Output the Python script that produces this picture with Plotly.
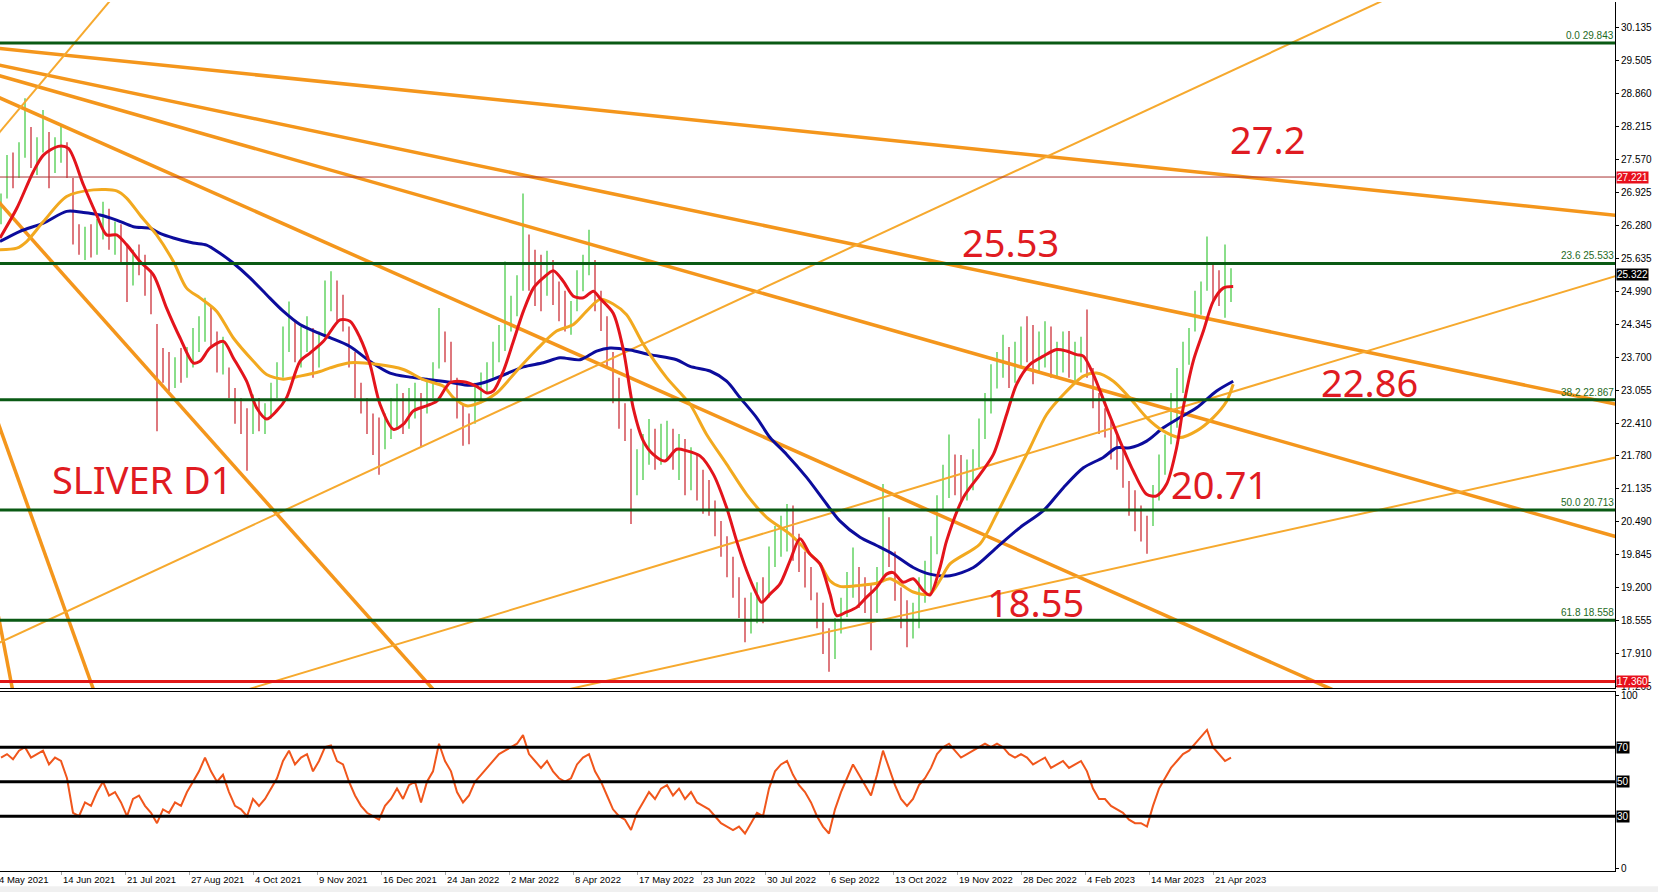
import plotly.graph_objects as go

# ---------------- data ----------------
# daily bars (every third session shown), price in USD/oz
highs = [26.90, 27.65, 27.70, 27.90, 28.76, 28.20, 28.00, 28.53, 28.10, 28.00, 28.24, 27.90,
         27.20, 26.30, 26.25, 26.30, 26.40, 26.74, 26.60, 26.35, 26.30, 25.90, 25.80, 25.90, 25.70, 25.40, 24.35,
         23.88, 23.80, 23.70, 23.88, 23.90, 24.27, 24.50, 24.86, 24.70, 24.20, 24.10, 23.50, 23.10, 22.90, 22.70,
         22.97, 22.90, 22.80, 23.20, 23.60, 24.30, 24.79, 24.40, 24.30, 24.50, 24.27,
         24.20, 25.20, 25.38, 25.20, 24.92, 24.30, 23.80, 23.20, 22.90, 22.60, 22.52, 22.60, 22.90, 23.18, 23.00,
         23.10, 23.20, 23.00, 23.30, 23.60, 24.66, 24.20, 24.00, 23.30, 22.80,
         22.60, 23.20, 23.40, 23.60, 24.00, 24.33, 25.57, 24.90, 25.30, 26.90, 26.10, 25.80, 25.70, 25.78, 25.60,
         25.18, 25.00, 24.80, 25.40, 25.70, 26.19, 25.60, 25.00, 24.50, 23.80, 23.30, 22.80,
         22.30, 21.90, 22.20, 22.49, 22.30, 22.40, 22.46, 22.30, 22.20, 22.10, 21.94, 21.80, 21.50, 21.30, 20.90,
         20.50, 20.20, 19.80, 19.40, 19.00, 19.10, 19.30, 19.40, 20.00, 20.40, 20.60, 20.83, 20.80, 20.25, 19.90,
         19.60, 19.10, 18.90, 18.40,
         18.60, 19.00, 19.50, 19.98, 19.60, 19.40, 19.27, 19.60, 21.22, 20.57, 19.90, 19.20, 18.95, 18.90, 19.40,
         19.72, 20.20, 21.00, 21.60, 22.19, 21.80, 21.79, 21.70, 21.90, 22.50, 23.00, 23.56, 23.80, 24.14, 23.90,
         24.00, 24.30, 24.50,
         24.33, 24.20, 24.40, 24.30, 24.00, 24.20, 24.21, 24.00, 24.10, 24.63, 23.49, 23.00, 22.70, 22.45, 22.20,
         21.90, 21.28, 21.10, 20.80, 20.60, 21.20, 21.80, 22.19, 23.00, 23.49, 24.00, 24.27, 25.00, 25.18, 26.06,
         25.51, 25.40, 25.90, 25.44]
lows = [26.30, 26.80, 27.00, 27.20, 27.60, 27.40, 27.26, 27.70, 27.00, 27.30, 27.50, 27.20,
        25.90, 25.70, 25.60, 25.65, 25.70, 26.00, 25.80, 25.70, 25.50, 24.78, 25.10, 25.30, 24.90, 24.54, 22.25,
        23.20, 23.04, 23.10, 23.20, 23.30, 23.50, 23.80, 24.00, 23.90, 23.40, 23.36, 22.90, 22.40, 22.20, 21.48,
        22.20, 22.25, 22.20, 22.50, 22.90, 23.30, 23.80, 23.60, 23.50, 23.80, 23.30,
        23.50, 24.10, 24.60, 24.40, 24.20, 23.50, 22.90, 22.60, 22.20, 21.79, 21.40, 21.90, 22.10, 22.30, 22.20,
        22.30, 22.50, 21.94, 22.60, 22.90, 23.48, 23.60, 23.20, 22.50, 21.97,
        22.00, 22.40, 22.80, 23.00, 23.30, 23.60, 23.82, 24.20, 24.50, 25.00, 25.00, 24.70, 24.60, 24.90, 24.72,
        24.40, 24.20, 24.14, 24.60, 24.99, 25.30, 24.60, 24.21, 23.50, 22.80, 22.30, 22.06,
        20.44, 21.00, 21.30, 21.60, 21.50, 21.60, 21.70, 21.50, 21.30, 21.00, 21.10, 20.90, 20.64, 20.60, 20.20,
        19.80, 19.40, 19.00, 18.60, 18.13, 18.30, 18.50, 18.50, 19.00, 19.60, 19.80, 19.90, 19.72, 19.50, 19.20,
        18.95, 18.40, 17.90, 17.55,
        17.80, 18.30, 18.62, 19.00, 18.80, 18.70, 17.97, 18.70, 19.30, 19.60, 18.94, 18.40, 18.03, 18.20, 18.40,
        18.90, 19.10, 19.85, 20.70, 20.95, 21.00, 20.83, 20.90, 21.10, 21.55, 22.10, 22.60, 23.09, 23.30, 23.10,
        23.20, 23.50, 23.60,
        23.17, 23.40, 23.50, 23.30, 23.30, 23.40, 23.30, 23.24, 23.40, 23.30, 22.70, 22.20, 22.13, 21.70, 21.50,
        21.15, 20.60, 20.30, 20.10, 19.86, 20.40, 20.90, 21.40, 22.00, 22.32, 23.00, 23.55, 24.20, 24.53, 25.00,
        24.80, 24.70, 24.47, 24.78]
closes = [26.70, 27.40, 27.20, 27.70, 28.10, 27.70, 27.90, 28.00, 27.50, 27.80, 28.00, 27.30,
          26.10, 25.90, 26.00, 25.80, 26.20, 26.50, 26.00, 26.10, 25.80, 25.30, 25.60, 25.50, 25.10, 24.80, 23.60,
          23.50, 23.30, 23.60, 23.40, 23.80, 24.00, 24.30, 24.60, 24.10, 23.70, 23.90, 23.10, 22.60, 22.50, 22.30,
          22.70, 22.40, 22.60, 23.00, 23.40, 24.00, 24.30, 23.90, 24.10, 24.20, 23.60,
          24.00, 24.90, 25.10, 24.60, 24.40, 23.70, 23.10, 22.80, 22.40, 22.10, 21.70, 22.30, 22.50, 22.80, 22.40,
          22.90, 23.00, 22.30, 23.10, 23.40, 24.40, 23.80, 23.50, 22.70, 22.40,
          22.30, 23.00, 23.20, 23.40, 23.80, 24.10, 24.30, 24.60, 25.10, 25.80, 25.40, 25.10, 25.00, 25.50, 24.90,
          24.70, 24.40, 24.60, 25.20, 25.50, 25.60, 24.90, 24.40, 23.70, 23.00, 22.50, 22.30,
          21.40, 21.60, 21.90, 22.10, 21.80, 22.00, 22.20, 21.70, 21.90, 21.30, 21.60, 21.20, 21.00, 20.80, 20.40,
          20.00, 19.60, 19.20, 18.80, 18.50, 18.60, 19.00, 18.90, 19.80, 20.10, 20.20, 20.50, 20.00, 19.70, 19.40,
          19.10, 18.60, 18.20, 17.90,
          18.30, 18.70, 19.20, 19.40, 19.10, 18.90, 18.60, 19.30, 20.60, 19.90, 19.20, 18.70, 18.30, 18.60, 19.10,
          19.30, 19.90, 20.70, 21.20, 21.50, 21.30, 21.10, 21.40, 21.60, 22.20, 22.80, 23.20, 23.50, 23.80, 23.40,
          23.70, 24.00, 23.90,
          23.60, 23.80, 24.10, 23.60, 23.80, 23.90, 23.60, 23.70, 23.80, 23.50, 22.90, 22.50, 22.40, 22.00, 21.80,
          21.40, 20.80, 20.50, 20.40, 20.30, 21.00, 21.60, 22.00, 22.80, 23.20, 23.80, 24.10, 24.80, 25.00, 25.50,
          25.10, 25.00, 25.10, 25.32]
rsi_values = [64, 66, 63, 68, 70, 64, 66, 68, 60, 64, 62, 52,
              32, 30, 38, 36, 44, 50, 42, 44, 38, 30, 40, 42, 36, 32, 26,
              34, 32, 38, 36, 44, 50, 56, 64, 56, 50, 54, 44, 36, 34, 30, 40, 36, 40, 46, 52, 62, 68, 60, 64, 66, 56,
              62, 70, 71, 62, 60, 50, 42, 36, 32, 30, 28, 36, 40, 46, 40, 48, 50, 38, 50, 56, 72, 62, 56, 44, 38,
              42, 50, 54, 58, 62, 66, 68, 70, 72, 77, 66, 62, 58, 62, 56, 52, 50, 52, 60, 64, 66, 56, 50, 42, 34, 30, 28,
              22, 32, 38, 44, 40, 46, 48, 42, 46, 40, 44, 38, 36, 34, 30, 26, 24, 22, 24, 20, 26, 32, 30, 46, 56, 60,
              62, 54, 48, 44, 38, 30, 24, 20,
              34, 44, 52, 60, 54, 48, 42, 54, 68, 58, 48, 40, 36, 40, 48, 52, 58, 66, 70, 72, 68, 64, 66, 68, 70, 72,
              70, 72, 70, 66, 64, 66, 64,
              60, 62, 64, 58, 60, 62, 58, 60, 62, 56, 46, 40, 40, 36, 34, 32, 28, 26, 26, 24, 36, 46, 52, 58, 62, 66,
              68, 72, 76, 80, 70, 66, 62, 64]
first_bar = 2
bar_step = 3

# moving averages (bar index, price)
fast_ma = [(1.5, 26.03), (9.9, 26.61), (18.2, 27.33), (23.2, 27.65), (30.6, 27.82), (35.7, 27.78), (43.2, 27.07),
           (49.8, 26.48), (54.8, 26.09), (59.8, 26.09), (64.8, 25.90), (71.5, 25.57), (78.2, 25.31), (84.8, 24.66),
           (91.5, 24.08), (98.1, 23.59), (101.5, 23.62), (106.5, 23.88), (113.2, 24.01), (118.1, 23.69),
           (124.8, 23.23), (129.8, 22.71), (134.8, 22.49), (139.8, 22.65), (144.8, 22.91), (151.5, 23.62),
           (156.5, 23.78), (163.2, 24.01), (171.5, 24.43), (176.5, 24.40), (181.5, 24.08), (186.5, 23.56),
           (191.5, 22.78), (198.2, 22.29), (203.2, 22.39), (208.2, 22.65), (214.8, 22.75), (219.9, 22.84),
           (226.5, 23.20), (233.2, 23.22), (239.8, 23.13), (244.9, 23.00), (248.2, 23.04), (253.2, 23.43),
           (258.2, 24.01), (263.2, 24.60), (268.2, 25.05), (273.1, 25.25), (278.2, 25.39), (283.2, 25.18),
           (288.2, 24.89), (293.2, 24.86), (298.2, 24.99), (301.5, 24.85), (308.1, 24.56), (313.2, 23.84),
           (318.1, 22.71), (323.2, 22.06), (328.1, 21.80), (334.0, 21.67), (339.8, 21.90), (344.8, 21.87),
           (351.5, 21.77), (358.2, 21.41), (364.8, 20.76), (369.8, 20.11), (374.8, 19.53), (379.8, 19.07),
           (382.3, 18.91), (386.5, 19.07), (391.5, 19.27), (396.5, 19.72), (401.5, 20.15), (406.5, 19.85),
           (411.5, 19.66), (416.5, 19.07), (419.8, 18.65), (424.8, 18.72), (429.8, 18.81), (434.8, 19.01),
           (439.8, 19.20), (444.8, 19.46), (448.1, 19.49), (453.1, 19.30), (458.1, 19.37), (463.1, 19.14),
           (466.4, 19.05), (471.5, 19.59), (474.8, 20.11), (483.2, 20.96), (491.5, 21.41), (498.2, 21.80),
           (504.8, 22.58), (509.8, 23.17), (516.5, 23.56), (523.2, 23.72), (529.8, 23.85), (534.8, 23.82),
           (539.8, 23.75), (543.2, 23.72), (548.2, 23.36), (554.8, 22.71), (561.5, 22.06), (568.2, 21.47),
           (574.8, 21.02), (579.8, 20.99), (584.8, 21.22), (589.8, 21.93), (593.1, 22.71), (598.1, 23.62),
           (603.2, 24.21), (608.1, 24.79), (613.1, 25.05), (618.1, 25.08)]
mid_ma = [(1.5, 25.80), (9.9, 25.83), (14.8, 25.96), (23.2, 26.35), (34.8, 26.84), (48.2, 26.97), (59.8, 26.95),
          (64.8, 26.81), (71.5, 26.48), (79.8, 26.09), (88.2, 25.57), (94.8, 25.05), (101.5, 24.86), (109.8, 24.60),
          (118.1, 24.08), (128.2, 23.62), (134.8, 23.36), (143.1, 23.27), (151.5, 23.33), (161.5, 23.42),
          (166.5, 23.49), (176.5, 23.59), (189.8, 23.56), (203.2, 23.46), (213.2, 23.26), (223.2, 23.13),
          (228.2, 22.91), (234.8, 22.75), (241.5, 22.81), (249.8, 23.00), (259.8, 23.43), (269.8, 23.85),
          (279.8, 24.21), (288.2, 24.34), (294.8, 24.60), (301.5, 24.83), (308.1, 24.74), (314.8, 24.53),
          (323.2, 23.95), (334.8, 23.30), (346.5, 22.78), (354.8, 22.19), (364.8, 21.61), (374.8, 21.02),
          (384.8, 20.57), (396.5, 20.24), (404.8, 19.92), (411.5, 19.66), (416.5, 19.33), (421.4, 19.22),
          (431.5, 19.24), (439.8, 19.28), (446.5, 19.37), (451.5, 19.27), (458.1, 19.11), (466.4, 19.07),
          (471.5, 19.34), (476.5, 19.66), (491.5, 20.05), (499.8, 20.63), (508.2, 21.28), (516.5, 21.93),
          (524.8, 22.58), (533.2, 22.97), (543.2, 23.33), (549.8, 23.39), (558.2, 23.23), (566.5, 22.90),
          (574.8, 22.52), (583.1, 22.26), (591.5, 22.13), (599.8, 22.26), (608.1, 22.52), (614.8, 22.84),
          (618.1, 23.17)]
slow_ma = [(1.5, 25.96), (11.5, 26.16), (23.2, 26.32), (34.8, 26.55), (43.2, 26.53), (51.5, 26.48), (59.8, 26.38),
           (68.2, 26.25), (76.5, 26.22), (81.5, 26.12), (88.2, 26.03), (98.1, 25.93), (104.8, 25.89), (111.5, 25.73),
           (118.1, 25.54), (126.5, 25.25), (134.8, 24.92), (143.1, 24.60), (151.5, 24.34), (161.5, 24.16),
           (166.5, 24.08), (176.5, 23.91), (186.5, 23.62), (196.5, 23.39), (206.5, 23.31), (216.5, 23.26),
           (226.5, 23.21), (236.5, 23.15), (243.2, 23.20), (253.2, 23.35), (263.2, 23.51), (273.1, 23.59),
           (281.5, 23.69), (291.5, 23.65), (299.8, 23.82), (306.5, 23.88), (316.5, 23.84), (326.5, 23.75),
           (339.8, 23.65), (346.5, 23.52), (356.5, 23.43), (364.8, 23.23), (371.5, 22.91), (379.8, 22.52),
           (386.5, 22.13), (394.8, 21.80), (404.8, 21.35), (414.8, 20.83), (421.4, 20.50), (431.5, 20.18),
           (439.8, 20.02), (448.1, 19.85), (458.1, 19.59), (466.4, 19.46), (476.5, 19.43), (488.2, 19.59),
           (499.8, 19.98), (511.5, 20.37), (523.2, 20.70), (533.2, 21.15), (543.2, 21.54), (553.1, 21.74),
           (559.8, 21.93), (566.5, 21.93), (574.8, 22.06), (583.1, 22.32), (591.5, 22.52), (599.8, 22.71),
           (609.8, 23.04), (618.1, 23.23)]

# trend lines: two anchor points (bar, price) and style
trend_lines = [
    ((1.5, 29.735), (808.8, 26.477), "thick"),
    ((1.5, 29.405), (808.8, 22.786), "thick"),
    ((1.5, 29.199), (808.8, 20.199), "thick"),
    ((1.5, 28.766), (668.7, 17.187), "thick"),
    ((1.5, 26.704), (218.3, 17.198), "thick"),
    ((1.5, 22.312), (48.3, 17.198), "thick"),
    ((1.5, 18.477), (7.8, 17.198), "thick"),
    ((1.5, 28.106), (56.0, 30.642), "thin"),
    ((1.5, 18.126), (691.4, 30.642), "thin"),
    ((124.7, 17.198), (808.8, 25.281), "thin"),
    ((284.4, 17.198), (808.8, 21.735), "thin"),
]

fib_levels = [29.843, 25.533, 22.867, 20.713, 18.558]
fib_names = ["0.0", "23.6", "38.2", "50.0", "61.8"]
support_level = 17.360
marker_level = 27.221
last_price = 25.322

callouts = [("27.2", 635, 27.97), ("25.53", 506.5, 25.96), ("22.86", 686, 23.215),
            ("20.71", 611, 21.23), ("18.55", 519, 18.91)]
title_text = "SLIVER D1"
title_pos = (26.5, 21.31)

price_ticks = [30.135, 29.505, 28.860, 28.215, 27.570, 26.925, 26.280, 25.635, 24.990, 24.345, 23.700,
               23.055, 22.410, 21.780, 21.135, 20.490, 19.845, 19.200, 18.555, 17.910, 17.265]
date_labels = ["4 May 2021", "14 Jun 2021", "21 Jul 2021", "27 Aug 2021", "4 Oct 2021", "9 Nov 2021",
               "16 Dec 2021", "24 Jan 2022", "2 Mar 2022", "8 Apr 2022", "17 May 2022", "23 Jun 2022",
               "30 Jul 2022", "6 Sep 2022", "13 Oct 2022", "19 Nov 2022", "28 Dec 2022", "4 Feb 2023",
               "14 Mar 2023", "21 Apr 2023"]
date_label_bars = [0, 32, 64, 96, 128, 160, 192, 224, 256, 288, 320, 352, 384, 416, 448, 480, 512, 544, 576, 608]
rsi_levels = [70, 50, 30]

# ---------------- figure ----------------
X_RANGE = [1.5, 809.0]
Y_RANGE = [17.226, 30.642]
RSI_RANGE = [-1.74, 101.74]
PX_PER_BAR = 2.0
BULL, BEAR = "#3cc83c", "#c81e28"
GREEN_LINE = "#0a5a14"

bars = [first_bar + bar_step * i for i in range(len(closes))]
up_x, up_y, dn_x, dn_y = [], [], [], []
for i, b in enumerate(bars):
    prev = closes[i - 1] if i > 0 else (highs[i] + lows[i]) / 2
    tx, ty = (up_x, up_y) if closes[i] >= prev else (dn_x, dn_y)
    tx += [b, b, None]
    ty += [lows[i], highs[i], None]

fig = go.Figure()
fig.add_trace(go.Scatter(x=up_x, y=up_y, mode="lines", line=dict(color=BULL, width=1.2),
                         xaxis="x", yaxis="y", hoverinfo="skip"))
fig.add_trace(go.Scatter(x=dn_x, y=dn_y, mode="lines", line=dict(color=BEAR, width=1.2),
                         xaxis="x", yaxis="y", hoverinfo="skip"))

for (x1, p1), (x2, p2), kind in trend_lines:
    m = (p2 - p1) / (x2 - x1)
    xs = [-20, 840]
    ys = [p1 + m * (xx - x1) for xx in xs]
    if kind == "thick":
        ln = dict(color="#f4961c", width=3.5)
    else:
        ln = dict(color="#f6a92e", width=2)
    fig.add_trace(go.Scatter(x=xs, y=ys, mode="lines", line=ln, xaxis="x", yaxis="y", hoverinfo="skip"))

for series, color in [(slow_ma, "#0c0c9c"), (mid_ma, "#f2a91f"), (fast_ma, "#e3141c")]:
    fig.add_trace(go.Scatter(x=[p[0] for p in series], y=[p[1] for p in series], mode="lines",
                             line=dict(color=color, width=3, shape="spline", smoothing=0.8),
                             xaxis="x", yaxis="y", hoverinfo="skip"))

fig.add_trace(go.Scatter(x=bars, y=rsi_values, mode="lines", line=dict(color="#f0561c", width=2),
                         xaxis="x2", yaxis="y2", hoverinfo="skip"))

shapes = []
for lv in fib_levels:
    shapes.append(dict(type="line", xref="x domain", yref="y", x0=0, x1=1, y0=lv, y1=lv,
                       line=dict(color=GREEN_LINE, width=3)))
shapes.append(dict(type="line", xref="x domain", yref="y", x0=0, x1=1, y0=marker_level, y1=marker_level,
                   line=dict(color="#a83232", width=1)))
shapes.append(dict(type="line", xref="x domain", yref="y", x0=0, x1=1, y0=support_level, y1=support_level,
                   line=dict(color="#e21818", width=3)))
for lv in rsi_levels:
    shapes.append(dict(type="line", xref="x2 domain", yref="y2", x0=0, x1=1, y0=lv, y1=lv,
                       line=dict(color="black", width=3)))
shapes.append(dict(type="rect", xref="paper", yref="paper", x0=0, x1=1.03, y0=-0.0245, y1=-0.0175,
                   fillcolor="#f0f0f0", line=dict(width=0), layer="below"))

ann = []
for txt, bx, py in callouts:
    ann.append(dict(x=bx, y=py, xref="x", yref="y", text=txt, showarrow=False,
                    font=dict(family="Noto Sans", size=38, color="#e01b22")))
ann.append(dict(x=title_pos[0], y=title_pos[1], xref="x", yref="y", text=title_text, showarrow=False,
                xanchor="left", font=dict(family="Noto Sans", size=38, color="#e01b22")))
for name, lv in zip(fib_names, fib_levels):
    ann.append(dict(x=1, y=lv, xref="paper", yref="y", text=f"{name} {lv:.3f}", showarrow=False,
                    xanchor="right", yanchor="bottom", xshift=1, yshift=0,
                    font=dict(family="Liberation Sans", size=10, color="#1e6a1e")))
for lv, bg in [(marker_level, "#e8101c"), (last_price, "#000000"), (support_level, "#e8101c")]:
    ann.append(dict(x=1, y=lv, xref="paper", yref="y", text=f"{lv:.3f}", showarrow=False,
                    xanchor="left", xshift=1, bgcolor=bg, borderpad=0,
                    font=dict(family="Liberation Sans", size=10, color="white")))
for lv in rsi_levels:
    ann.append(dict(x=1, y=lv, xref="paper", yref="y2", text=str(lv), showarrow=False,
                    xanchor="left", xshift=1, bgcolor="black", borderpad=0,
                    font=dict(family="Liberation Sans", size=10, color="white")))
for txt, bx in zip(date_labels, date_label_bars):
    # labels left of the visible range are pinned to the range start and shifted in pixels
    xpos = max(bx, X_RANGE[0])
    ann.append(dict(x=xpos, y=0, xref="x2", yref="paper", text=txt, showarrow=False,
                    xanchor="left", yanchor="top", yshift=-1, xshift=(bx - xpos) * PX_PER_BAR,
                    font=dict(family="Liberation Sans", size=9.5, color="black")))

axis_common = dict(showgrid=False, zeroline=False, showline=True, linecolor="black", linewidth=1)
fig.update_layout(
    width=1658, height=892,
    margin=dict(l=0, r=43, t=0, b=21),
    paper_bgcolor="white", plot_bgcolor="white",
    showlegend=False, hovermode=False,
    font=dict(family="Liberation Sans", size=10, color="black"),
    xaxis=dict(domain=[0, 1], range=X_RANGE, anchor="y", showticklabels=False, ticks="", **axis_common),
    xaxis2=dict(domain=[0, 1], range=X_RANGE, anchor="y2", matches="x", showticklabels=False,
                tickvals=date_label_bars, ticks="outside", ticklen=3, tickcolor="#aaaaaa", mirror=True,
                **axis_common),
    yaxis=dict(domain=[0.2101, 1], range=Y_RANGE, side="right", anchor="x", tickvals=price_ticks,
               ticktext=[f"{v:.3f}" for v in price_ticks], ticks="outside", ticklen=3, tickcolor="black",
               tickfont=dict(family="Liberation Sans", size=10, color="black"), **axis_common),
    yaxis2=dict(domain=[0, 0.2055], range=RSI_RANGE, side="right", anchor="x2", tickvals=[0, 100],
                ticks="outside", ticklen=3, tickcolor="black",
                tickfont=dict(family="Liberation Sans", size=10, color="black"), **axis_common),
    shapes=shapes, annotations=ann,
)

fig.write_html("out.html", config={"displayModeBar": False},
               post_script="document.body.style.margin='0';document.body.style.overflow='hidden';")
